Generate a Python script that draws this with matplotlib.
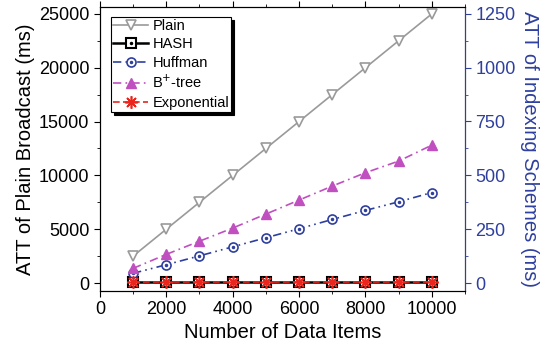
import matplotlib.pyplot as plt
from matplotlib.ticker import MultipleLocator

plt.rcParams['font.family'] = ['Liberation Sans', 'DejaVu Sans']

# data
items = [1000, 2000, 3000, 4000, 5000, 6000, 7000, 8000, 9000, 10000]
plain = [2500, 5000, 7500, 10000, 12500, 15000, 17500, 20000, 22500, 25000]   # left axis
hash_ = [3, 3, 3, 3, 3, 3, 3, 3, 3, 3]                                         # right axis
huffman = [45, 85, 126, 168, 210, 252, 295, 337, 377, 420]
bplus = [68, 133, 194, 255, 320, 385, 450, 512, 566, 640]
expo = [4, 4, 4, 4, 4, 4, 4, 4, 4, 4]

blue = '#2e3f9e'
gray = '#9a9a9a'
magenta = '#c04fc0'
red = '#e8261e'

fig, ax = plt.subplots(figsize=(5.4, 3.46), dpi=100)
fig.subplots_adjust(left=0.185, right=0.861, top=0.980, bottom=0.159)
ax2 = ax.twinx()

# plain broadcast on the left axis
l_plain, = ax.plot(items, plain, color=gray, lw=1.2, marker='v', ms=7,
                   mfc='white', mec=gray, mew=1.2, label='Plain')

# indexing schemes on the right axis
l_hash, = ax2.plot(items, hash_, color='black', lw=1.8, marker='s', ms=6.5,
                   mfc='white', mec='black', mew=1.5)
d_hash, = ax2.plot(items, hash_, ls='none', marker='.', ms=3, color='black')
l_huff, = ax2.plot(items, huffman, color=blue, lw=1.2, dashes=(5, 2.5, 1, 2.5, 1, 2.5),
                   marker='o', ms=6.5, mfc='white', mec=blue, mew=1.2)
d_huff, = ax2.plot(items, huffman, ls='none', marker='.', ms=3, color=blue)
l_bp, = ax2.plot(items, bplus, color=magenta, lw=1.2, dashes=(5, 2.5, 1, 2.5),
                 marker='^', ms=7.5, mfc=magenta, mec=magenta)
l_exp, = ax2.plot(items, expo, color=red, lw=1.2, ls=(0, (4, 2)),
                  marker=(8, 2, 0), ms=9, mew=1.2, mec=red)

ax.set_xlim(0, 11000)
ax.set_ylim(-740, 25650)
ax2.set_ylim(-37, 1282)

ax.xaxis.set_major_locator(MultipleLocator(2000))
ax.xaxis.set_minor_locator(MultipleLocator(1000))
ax.yaxis.set_major_locator(MultipleLocator(5000))
ax.yaxis.set_minor_locator(MultipleLocator(2500))
ax2.yaxis.set_major_locator(MultipleLocator(250))
ax2.yaxis.set_minor_locator(MultipleLocator(125))

ax.tick_params(axis='both', which='both', labelsize=13, direction='out')
ax.tick_params(axis='x', which='both', top=True)
ax.tick_params(which='major', length=4)
ax.tick_params(which='minor', length=2.5)
ax2.tick_params(which='major', length=4, colors=blue, labelsize=13)
ax2.tick_params(which='minor', length=2.5, colors=blue)
ax2.spines['right'].set_color(blue)

ax.set_xlabel('Number of Data Items', fontsize=14.5, labelpad=3)
ax.set_ylabel('ATT of Plain Broadcast (ms)', fontsize=14.5, labelpad=3)
ax2.set_ylabel('ATT of Indexing Schemes (ms)', fontsize=14.5, color=blue,
               rotation=270, labelpad=17)

handles = [l_plain, (l_hash, d_hash), (l_huff, d_huff), l_bp, l_exp]
labels = ['Plain', 'HASH', 'Huffman', r'B$^{+}$-tree', 'Exponential']
leg = ax2.legend(handles, labels, loc='upper left', bbox_to_anchor=(0.03, 0.965),
                 fontsize=10.5, frameon=True, fancybox=False, framealpha=1,
                 edgecolor='black', borderpad=0.15, labelspacing=0.3,
                 handlelength=2.4, handletextpad=0.3, borderaxespad=0,
                 shadow={'color': 'black', 'alpha': 1})
leg.get_frame().set_linewidth(0.8)

fig.savefig('out.png', dpi=100)
